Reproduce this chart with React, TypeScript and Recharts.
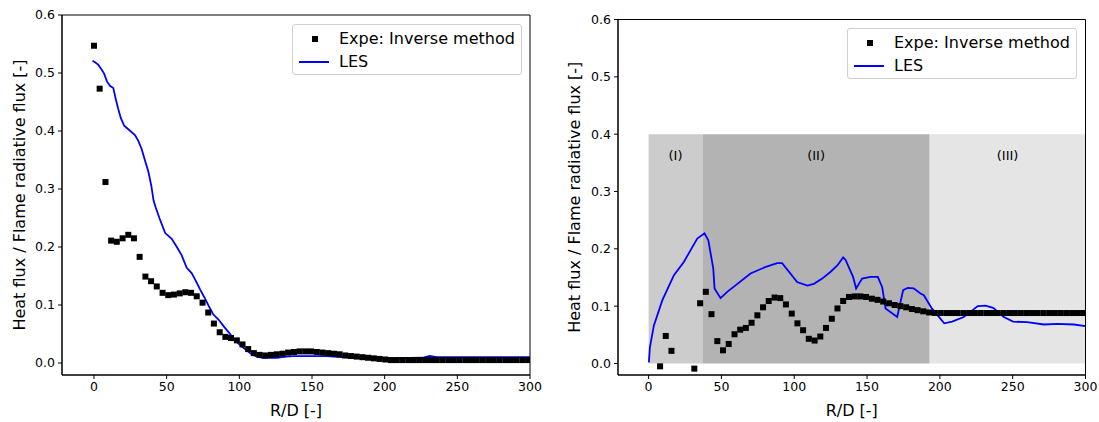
import {
  ComposedChart,
  Scatter,
  Line,
  XAxis,
  YAxis,
  Legend,
  ReferenceArea,
} from "recharts";

// R/D positions of the measurement points (shared by both panels)
const rdGrid = [
  0, 3.9, 7.9, 11.8, 15.7, 19.7, 23.6, 27.5, 31.4, 35.4, 39.3, 43.2, 47.2, 51.1,
  55.0, 59.0, 62.9, 66.8, 70.7, 74.7, 78.6, 82.5, 86.5, 90.4, 94.3, 98.3, 102.2,
  106.1, 110.0, 114.0, 117.9, 121.8, 125.8, 129.7, 133.6, 137.6, 141.5, 145.4,
  149.3, 153.3, 157.2, 161.1, 165.1, 169.0, 172.9, 176.9, 180.8, 184.7, 188.6,
  192.6, 196.5, 200.4, 204.4, 208.3, 212.2, 216.2, 220.1, 224.0, 227.9, 231.9,
  235.8, 239.7, 243.7, 247.6, 251.5, 255.5, 259.4, 263.3, 267.2, 271.2, 275.1,
  279.0, 283.0, 286.9, 290.8, 294.8, 298.7,
];

// left panel: inverse method
const expeLeft = [
  0.547, 0.473, 0.312, 0.211, 0.209, 0.215, 0.221, 0.215, 0.183, 0.149, 0.141,
  0.132, 0.121, 0.117, 0.118, 0.12, 0.122, 0.121, 0.115, 0.104, 0.087, 0.068,
  0.053, 0.045, 0.043, 0.039, 0.032, 0.024, 0.017, 0.014, 0.013, 0.014, 0.015,
  0.016, 0.018, 0.019, 0.02, 0.02, 0.02, 0.019, 0.018, 0.017, 0.016, 0.015,
  0.013, 0.012, 0.011, 0.01, 0.009, 0.008, 0.007, 0.006, 0.005, 0.005, 0.005,
  0.005, 0.005, 0.005, 0.005, 0.005, 0.005, 0.005, 0.005, 0.005, 0.005, 0.005,
  0.005, 0.005, 0.005, 0.005, 0.005, 0.005, 0.005, 0.005, 0.005, 0.005, 0.005,
];

// right panel: inverse method (null = below the axis, not drawn)
const expeRight = [
  null, null, -0.005, 0.048, 0.022, null, null, null, -0.009, 0.105, 0.125,
  0.086, 0.039, 0.023, 0.034, 0.051, 0.059, 0.062, 0.071, 0.084, 0.098, 0.109,
  0.115, 0.114, 0.103, 0.087, 0.07, 0.058, 0.043, 0.04, 0.047, 0.062, 0.078,
  0.096, 0.109, 0.116, 0.117, 0.117, 0.116, 0.113, 0.111, 0.108, 0.105, 0.102,
  0.1, 0.098, 0.095, 0.093, 0.091, 0.089, 0.088, 0.088, 0.088, 0.088, 0.088,
  0.088, 0.088, 0.088, 0.088, 0.088, 0.088, 0.088, 0.088, 0.088, 0.088, 0.088,
  0.088, 0.088, 0.088, 0.088, 0.088, 0.088, 0.088, 0.088, 0.088, 0.088, 0.088,
];

// LES curves
const lesLeftX = [
  -1, 1, 3, 5, 7, 9, 11, 13.3, 15, 16.7, 18.5, 20.8, 23.6, 28.2, 30.5, 32.8, 35,
  37.4, 39.5, 41, 42.5, 45, 49, 53.5, 57, 60.3, 63.8, 67.2, 70, 73, 76, 79, 82,
  86, 89, 93, 97, 101, 105, 108, 112, 116, 122, 126, 132, 137, 145, 160, 170,
  180, 200, 226, 231, 236, 250, 270, 300,
];
const lesLeftY = [
  0.521, 0.518, 0.514, 0.507, 0.499, 0.485, 0.478, 0.474, 0.455, 0.438, 0.422,
  0.409, 0.403, 0.393, 0.383, 0.369, 0.35, 0.33, 0.305, 0.28, 0.268, 0.25,
  0.224, 0.214, 0.2, 0.186, 0.164, 0.155, 0.142, 0.127, 0.113, 0.098, 0.084,
  0.074, 0.064, 0.052, 0.039, 0.03, 0.022, 0.016, 0.011, 0.009, 0.009, 0.009,
  0.011, 0.012, 0.012, 0.012, 0.01, 0.009, 0.008, 0.009, 0.012, 0.01, 0.01,
  0.01, 0.01,
];

const lesRightX = [
  0.2, 0.9, 3.6, 9.4, 17.4, 24.2, 33.4, 38.4, 41, 44.4, 45.3, 49.4, 54, 70, 80,
  88.3, 91.7, 102, 109, 113.5, 119.2, 125, 129.6, 133.6, 135.2, 140.4, 142.5,
  146.6, 152.4, 157.4, 160.4, 162.7, 170.7, 174.8, 178, 182, 186.7, 189, 194.5,
  203, 208.4, 216.4, 221, 226, 231.3, 236.6, 243.9, 250.3, 259.9, 271.4, 280.5,
  292, 300,
];
const lesRightY = [
  0.002, 0.028, 0.066, 0.11, 0.154, 0.177, 0.218, 0.227, 0.215, 0.166, 0.131,
  0.114, 0.125, 0.157, 0.168, 0.175, 0.175, 0.142, 0.136, 0.139, 0.148, 0.16,
  0.171, 0.185, 0.181, 0.151, 0.131, 0.148, 0.151, 0.151, 0.133, 0.096, 0.081,
  0.128, 0.132, 0.131, 0.122, 0.119, 0.096, 0.07, 0.073, 0.081, 0.09, 0.1,
  0.101, 0.097, 0.081, 0.073, 0.072, 0.068, 0.069, 0.068, 0.065,
];

// zones on the right panel
const zones = [
  { label: "(I)", from: 0, to: 37, color: "#cccccc" },
  { label: "(II)", from: 37, to: 193, color: "#b3b3b3" },
  { label: "(III)", from: 193, to: 300, color: "#e5e5e5" },
];

const xTicks = [0, 50, 100, 150, 200, 250, 300];
const yTicks = [0, 0.1, 0.2, 0.3, 0.4, 0.5, 0.6];

const FONT = "'DejaVu Sans', sans-serif";
const expeName = "Expe: Inverse method";
const lesName = "LES";
const yLabel = "Heat flux / Flame radiative flux [-]";
const xLabel = "R/D [-]";

const toPoints = (xs: number[], ys: (number | null)[]) =>
  xs
    .map((x, i) => ({ x, y: ys[i] }))
    .filter((p) => p.y !== null && p.y !== undefined);

const SquareDot = (props: any) => (
  <rect x={props.cx - 3} y={props.cy - 3} width={6} height={6} fill="#000" />
);

const LegendBox = () => (
  <div
    style={{
      width: 230,
      height: 51,
      boxSizing: "border-box",
      border: "1px solid #d0d0d0",
      borderRadius: 3,
      background: "rgba(255,255,255,0.8)",
      fontFamily: FONT,
      fontSize: 16,
      color: "#000",
      position: "relative",
    }}
  >
    <svg width={40} height={51} style={{ position: "absolute", left: 0, top: 0 }}>
      <rect x={19} y={11} width={6} height={6} fill="#000" />
      <line x1={6} x2={36} y1={37} y2={37} stroke="#0000ff" strokeWidth={2} />
    </svg>
    <div style={{ position: "absolute", left: 46, top: 4, lineHeight: "20px" }}>
      {expeName}
    </div>
    <div style={{ position: "absolute", left: 46, top: 27, lineHeight: "20px" }}>
      {lesName}
    </div>
  </div>
);

type PanelProps = {
  width: number;
  marginTop: number;
  marginRight: number;
  yAxisWidth: number;
  xMin: number;
  yMin: number;
  labelOffset: number;
  legendLeft: number;
  legendTop: number;
  expe: { x: number; y: any }[];
  les: { x: number; y: any }[];
  withZones?: boolean;
};

const Panel = (p: PanelProps) => {
  const tick = { fill: "#000", fontSize: 12.5, fontFamily: FONT };
  return (
    <ComposedChart
      width={p.width}
      height={422}
      margin={{ top: p.marginTop, right: p.marginRight, left: 0, bottom: 0 }}
    >
      <XAxis
        type="number"
        dataKey="x"
        domain={[p.xMin, 300]}
        ticks={xTicks}
        allowDataOverflow
        stroke="#000"
        tickSize={4}
        tickMargin={3}
        tick={tick}
        height={47}
        label={{
          value: xLabel,
          position: "insideBottom",
          offset: 6,
          fill: "#000",
          fontSize: 16,
          fontFamily: FONT,
        }}
      />
      <YAxis
        type="number"
        dataKey="y"
        domain={[p.yMin, 0.6]}
        ticks={yTicks}
        allowDataOverflow
        stroke="#000"
        tickSize={4}
        tickMargin={3}
        tick={tick}
        width={p.yAxisWidth}
        tickFormatter={(v: number) => v.toFixed(1)}
        label={{
          value: yLabel,
          angle: -90,
          position: "insideLeft",
          offset: p.labelOffset,
          fill: "#000",
          fontSize: 16,
          fontFamily: FONT,
          style: { textAnchor: "middle" },
        }}
      />
      {p.withZones &&
        zones.map((z) => (
          <ReferenceArea
            key={z.label}
            x1={z.from}
            x2={z.to}
            y1={0}
            y2={0.4}
            fill={z.color}
            fillOpacity={1}
            stroke="none"
            label={{
              value: z.label,
              position: "insideTop",
              offset: 17,
              fill: "#000",
              fontSize: 13,
              fontFamily: FONT,
            }}
          />
        ))}
      <Legend
        layout="horizontal"
        verticalAlign="middle"
        align="center"
        wrapperStyle={{ left: p.legendLeft, top: p.legendTop, width: 230, height: 51 }}
        content={() => <LegendBox />}
      />
      <Line
        data={p.les}
        dataKey="y"
        type="linear"
        stroke="#0000ff"
        strokeWidth={1.8}
        dot={false}
        activeDot={false}
        isAnimationActive={false}
        name={lesName}
      />
      <Scatter
        data={p.expe}
        dataKey="y"
        shape={SquareDot}
        isAnimationActive={false}
        name={expeName}
      />
      {/* axes frame */}
      <ReferenceArea
        x1={p.xMin}
        x2={300}
        y1={p.yMin}
        y2={0.6}
        fill="none"
        stroke="#000"
        strokeWidth={1}
        ifOverflow="visible"
      />
    </ComposedChart>
  );
};

export default function App() {
  return (
    <div
      style={{
        position: "absolute",
        left: 0,
        top: 0,
        width: 1099,
        height: 422,
        display: "flex",
        background: "#fff",
        fontFamily: FONT,
      }}
    >
      <Panel
        width={550}
        marginTop={15}
        marginRight={20}
        yAxisWidth={62}
        xMin={-22}
        yMin={-0.0207}
        labelOffset={19}
        legendLeft={292}
        legendTop={24}
        expe={toPoints(rdGrid, expeLeft)}
        les={toPoints(lesLeftX, lesLeftY)}
      />
      <Panel
        width={549}
        marginTop={19.5}
        marginRight={13.5}
        yAxisWidth={68}
        xMin={-21}
        yMin={-0.0201}
        labelOffset={24}
        legendLeft={297}
        legendTop={28}
        expe={toPoints(rdGrid, expeRight)}
        les={toPoints(lesRightX, lesRightY)}
        withZones
      />
    </div>
  );
}
